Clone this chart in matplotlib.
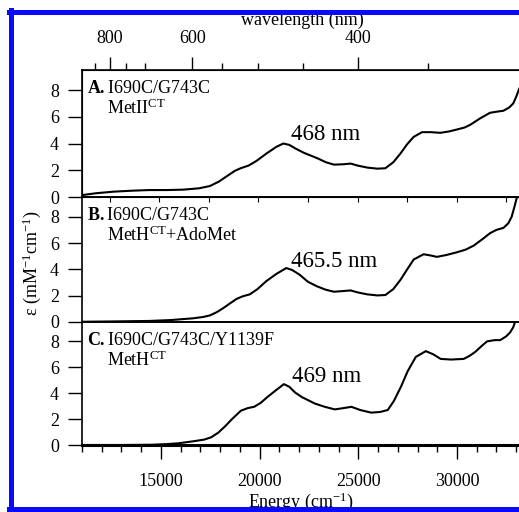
import matplotlib
matplotlib.use("Agg")
import matplotlib.pyplot as plt
from matplotlib.lines import Line2D

# --- data (energy in cm-1, epsilon in mM-1 cm-1) ---
energy_a = [11150, 11800, 12700, 13600, 14500, 15400, 16200, 17000, 17550, 18000,
            18400, 18800, 19100, 19500, 19900, 20400, 20900, 21250, 21550, 21900,
            22300, 22970, 23400, 23810, 24300, 24650, 25000, 25490, 26000, 26400,
            26800, 27160, 27500, 27830, 28250, 28700, 29170, 29600, 30010, 30400,
            30680, 31200, 31680, 32100, 32350, 32650, 32850, 33000, 33150]
eps_a = [0.15, 0.28, 0.40, 0.47, 0.52, 0.52, 0.55, 0.65, 0.82, 1.15,
         1.55, 1.95, 2.15, 2.35, 2.7, 3.25, 3.75, 4.0, 3.9, 3.6,
         3.3, 2.9, 2.6, 2.42, 2.45, 2.5, 2.35, 2.2, 2.12, 2.15,
         2.6, 3.25, 3.95, 4.5, 4.85, 4.85, 4.8, 4.9, 5.05, 5.2,
         5.4, 5.9, 6.3, 6.4, 6.45, 6.7, 7.0, 7.5, 8.1]

energy_b = [11150, 12500, 14500, 15600, 16700, 17200, 17550, 17900, 18220, 18550,
            18890, 19200, 19560, 19950, 20390, 20900, 21400, 21700, 22070, 22500,
            22970, 23400, 23810, 24250, 24650, 25000, 25490, 26000, 26400, 26800,
            27160, 27500, 27830, 28330, 28700, 29000, 29500, 30010, 30450, 30850,
            31300, 31680, 32000, 32350, 32600, 32770, 32900, 33020, 33100]
eps_b = [0.02, 0.04, 0.08, 0.15, 0.28, 0.38, 0.5, 0.75, 1.05, 1.4,
         1.75, 1.95, 2.1, 2.5, 3.1, 3.65, 4.1, 3.95, 3.6, 3.05,
         2.7, 2.45, 2.3, 2.35, 2.4, 2.25, 2.1, 2.02, 2.05, 2.5,
         3.2, 4.0, 4.75, 5.15, 5.05, 4.95, 5.1, 5.3, 5.5, 5.8,
         6.3, 6.75, 7.0, 7.15, 7.5, 8.0, 8.7, 9.4, 9.6]

energy_c = [11150, 13000, 14530, 15300, 15870, 16700, 17200, 17550, 17900, 18220,
            18600, 19050, 19400, 19720, 20050, 20390, 20800, 21230, 21500, 21800,
            22140, 22800, 23300, 23810, 24250, 24650, 25100, 25650, 26100, 26490,
            26800, 27160, 27500, 27910, 28420, 28800, 29170, 29700, 30340, 30650,
            30930, 31250, 31520, 31900, 32190, 32500, 32690, 32850, 32940]
eps_c = [0.0, 0.0, 0.02, 0.07, 0.13, 0.3, 0.42, 0.6, 0.95, 1.4,
         2.0, 2.65, 2.85, 2.95, 3.25, 3.7, 4.2, 4.7, 4.5, 4.05,
         3.7, 3.2, 2.95, 2.75, 2.85, 2.95, 2.7, 2.5, 2.55, 2.7,
         3.4, 4.5, 5.7, 6.8, 7.25, 7.0, 6.65, 6.6, 6.65, 6.9,
         7.2, 7.65, 8.0, 8.1, 8.1, 8.4, 8.7, 9.1, 9.5]

panel_names = ["A.", "B.", "C."]
panel_mutants = ["I690C/G743C", "I690C/G743C", "I690C/G743C/Y1139F"]
panel_species = [r"MetII$^{\mathrm{CT}}$", r"MetH$^{\mathrm{CT}}$+AdoMet", r"MetH$^{\mathrm{CT}}$"]
peak_labels = ["468 nm", "465.5 nm", "469 nm"]
peak_label_pos = [(21630, 4.25), (21630, 4.15), (21630, 4.85)]

energy_major = [15000, 20000, 25000, 30000]
energy_minor = list(range(11000, 34000, 1000))
wl_major = [800, 600, 400]
wl_minor = [850, 750, 700, 550, 500, 450, 350]
eps_ticks = [0, 2, 4, 6, 8]

XLIM = (11100, 33140)
YLIM = (0, 9.5)

plt.rcParams['font.family'] = 'Liberation Serif'
plt.rcParams['mathtext.fontset'] = 'custom'
plt.rcParams['mathtext.rm'] = 'Liberation Serif'
plt.rcParams['mathtext.it'] = 'Liberation Serif:italic'
plt.rcParams['mathtext.bf'] = 'Liberation Serif:bold'

W, H = 519, 512
fig = plt.figure(figsize=(W / 100, H / 100), dpi=100)
fig.patch.set_facecolor('white')

# panel edges in pixels (top, bottom)
left_px = 82
panel_px = [(70, 197), (197, 322), (322, 445)]

series = [(energy_a, eps_a), (energy_b, eps_b), (energy_c, eps_c)]
axes = []
for i, (top, bot) in enumerate(panel_px):
    ax = fig.add_axes([left_px / W, 1 - bot / H, 1 - left_px / W, (bot - top) / H])
    x, y = series[i]
    ax.plot(x, y, color='black', lw=1.5, solid_joinstyle='round')
    ax.set_xlim(*XLIM)
    ax.set_ylim(*YLIM)
    ax.set_yticks(eps_ticks)
    ax.tick_params(axis='y', direction='out', length=10, width=1.0, pad=6.5, labelsize=13)
    ax.spines['right'].set_visible(False)
    for s in ['left', 'top', 'bottom']:
        ax.spines[s].set_linewidth(1.2)
    if i < 2:
        ax.tick_params(axis='x', bottom=False, labelbottom=False)
    ax.set_facecolor('none')

    ax.text(0.012, 1 - 23 / (bot - top), r"$\mathbf{" + panel_names[i] + "}$" + panel_mutants[i],
            transform=ax.transAxes, fontsize=13, va='baseline', ha='left')
    ax.text(0.057, 1 - 44 / (bot - top), panel_species[i],
            transform=ax.transAxes, fontsize=13, va='baseline', ha='left')
    px, py = peak_label_pos[i]
    ax.text(px, py, peak_labels[i], fontsize=16.5, va='baseline', ha='left')
    axes.append(ax)

ax_c = axes[2]
ax_c.set_xticks(energy_major)
ax_c.set_xticks(energy_minor, minor=True)
ax_c.tick_params(axis='x', which='major', direction='out', length=10, width=1.0, pad=10, labelsize=13)
ax_c.tick_params(axis='x', which='minor', direction='out', length=5, width=1.0)
ax_c.spines['bottom'].set_linewidth(2.2)
ax_c.set_xlabel(r"Energy (cm$^{-1}$)", fontsize=13)
ax_c.xaxis.set_label_coords(0.5, -0.372)

# top wavelength axis
ax_top = axes[0].twiny()
ax_top.set_xlim(*XLIM)
ax_top.set_xticks([1e7 / w for w in wl_major])
ax_top.set_xticklabels([str(w) for w in wl_major])
ax_top.set_xticks([1e7 / w for w in wl_minor], minor=True)
ax_top.tick_params(axis='x', which='major', direction='out', length=9.5, width=1.0, pad=7, labelsize=13)
ax_top.tick_params(axis='x', which='minor', direction='out', length=5, width=1.0)
ax_top.spines['right'].set_visible(False)

fig.text(302 / W, 1 - 25 / H, "wavelength (nm)", fontsize=13, ha='center', va='baseline')
fig.text(32 / W, 1 - 263 / H, r"$\mathrm{\varepsilon}$ (mM$^{-1}$cm$^{-1}$)", fontsize=13,
         rotation=90, ha='center', va='center')

# blue frame around the figure (cropped on the right)
frame_kw = dict(color='#0a0aff', lw=3.6, transform=fig.transFigure, zorder=10)
fig.add_artist(Line2D([10.5 / W, 10.5 / W], [1 - 10 / H, 1 - 510 / H], **frame_kw))
fig.add_artist(Line2D([8.7 / W, 1.0], [1 - 12 / H, 1 - 12 / H], **frame_kw))
fig.add_artist(Line2D([8.7 / W, 1.0], [1 - 509 / H, 1 - 509 / H], **frame_kw))

fig.savefig("out.png", dpi=100)
